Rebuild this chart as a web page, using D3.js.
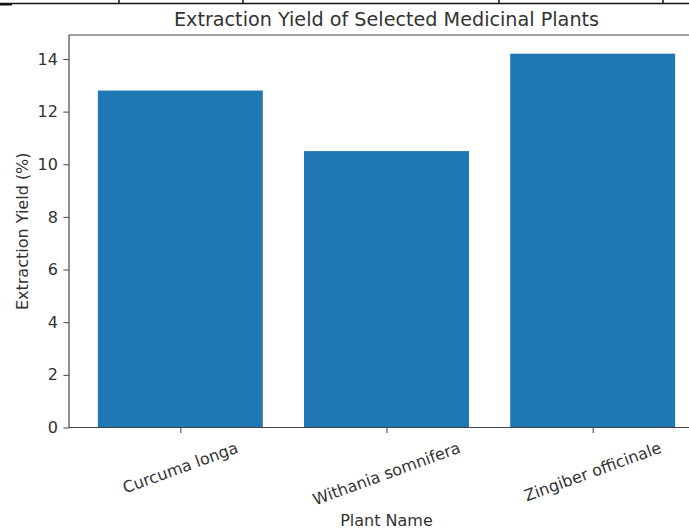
<!DOCTYPE html>
<html>
<head>
<meta charset="utf-8">
<script src="https://cdn.jsdelivr.net/npm/d3@7"></script>
<style>
  html, body { margin: 0; padding: 0; background: #fff; }
  svg { display: block; font-family: "DejaVu Sans", sans-serif; }
</style>
</head>
<body>
<svg id="chart"></svg>
<script>
const W = 689, H = 529;
const M = { left: 69, top: 35, right: -15, bottom: 101.5 };

const plants = ['Curcuma longa', 'Withania somnifera', 'Zingiber officinale'];
const yields = [12.8, 10.5, 14.2];
const yTicks = [0, 2, 4, 6, 8, 10, 12, 14];

const TEXT = '#333';
const AXIS = '#444';
const FS = 16;        // tick + axis labels
const TITLE_FS = 19.2;
const TICK = 5.6, PAD = 5.6;

const svg = d3.select('#chart').attr('width', W).attr('height', H);

// cropped table border above the figure
const tableX = [119, 243, 499, 663];
svg.append('line').attr('x1', 0).attr('x2', W).attr('y1', 3.5).attr('y2', 3.5)
  .attr('stroke', '#111').attr('stroke-width', 1.5);
svg.selectAll('line.tb').data(tableX).enter().append('line').attr('class', 'tb')
  .attr('x1', d => d).attr('x2', d => d).attr('y1', 0).attr('y2', 4)
  .attr('stroke', '#111').attr('stroke-width', 1.5);
svg.append('rect').attr('x', 0).attr('y', 3).attr('width', 12).attr('height', 2.5).attr('fill', '#111');

const innerW = W - M.left - M.right;
const innerH = H - M.top - M.bottom;
const g = svg.append('g').attr('transform', `translate(${M.left},${M.top})`);

// matplotlib-like bar positions: bars at 0..n-1, width 0.8, 5% margins
const n = plants.length;
const x = d3.scaleLinear().domain([-0.4 - 0.05 * (n - 0.2), n - 0.6 + 0.05 * (n - 0.2)]).range([0, innerW]);
const y = d3.scaleLinear().domain([0, d3.max(yields) * 1.05]).range([innerH, 0]);

g.selectAll('rect.bar').data(yields).enter().append('rect').attr('class', 'bar')
  .attr('x', (d, i) => x(i - 0.4))
  .attr('width', (d, i) => x(i + 0.4) - x(i - 0.4))
  .attr('y', d => y(d))
  .attr('height', d => innerH - y(d))
  .attr('fill', '#1f77b4');

// y axis
const yAxis = g.append('g').call(d3.axisLeft(y).tickValues(yTicks).tickSize(TICK).tickPadding(PAD).tickFormat(d3.format('d')));
yAxis.select('.domain').remove();
yAxis.selectAll('line').attr('stroke', AXIS);
yAxis.selectAll('text').attr('fill', TEXT).attr('font-size', FS).attr('font-family', 'DejaVu Sans');

// x axis ticks
const xAxis = g.append('g').attr('transform', `translate(0,${innerH})`)
  .call(d3.axisBottom(x).tickValues(d3.range(n)).tickSize(TICK).tickFormat(''));
xAxis.select('.domain').remove();
xAxis.selectAll('line').attr('stroke', AXIS);

// rotated tick labels (rotation about text centre, bbox top under tick)
const angle = 20;
const lbl = g.append('g');
plants.forEach((p, i) => {
  const t = lbl.append('text').text(p)
    .attr('font-size', FS).attr('fill', TEXT)
    .attr('text-anchor', 'middle').attr('dominant-baseline', 'central');
  const w = t.node().getComputedTextLength();
  const h = FS * 1.1;
  const a = angle * Math.PI / 180;
  const bh = w * Math.sin(a) + h * Math.cos(a);
  t.attr('transform', `translate(${x(i)},${innerH + TICK + PAD + bh / 2}) rotate(${-angle})`);
});

// spines
const spine = (x1, y1, x2, y2) => g.append('line').attr('x1', x1).attr('y1', y1).attr('x2', x2).attr('y2', y2)
  .attr('stroke', AXIS).attr('stroke-width', 1.2);
spine(0, 0, 0, innerH);
spine(0, innerH, innerW, innerH);
spine(0, 0, innerW, 0);
spine(innerW, 0, innerW, innerH);

// titles
svg.append('text').attr('x', M.left + innerW / 2).attr('y', 26)
  .attr('text-anchor', 'middle').attr('font-size', TITLE_FS).attr('fill', TEXT)
  .text('Extraction Yield of Selected Medicinal Plants');
svg.append('text').attr('x', M.left + innerW / 2).attr('y', 526)
  .attr('text-anchor', 'middle').attr('font-size', FS).attr('fill', TEXT)
  .text('Plant Name');
svg.append('text').attr('transform', `translate(28,${M.top + innerH / 2}) rotate(-90)`)
  .attr('text-anchor', 'middle').attr('font-size', FS).attr('fill', TEXT)
  .text('Extraction Yield (%)');
</script>
</body>
</html>
